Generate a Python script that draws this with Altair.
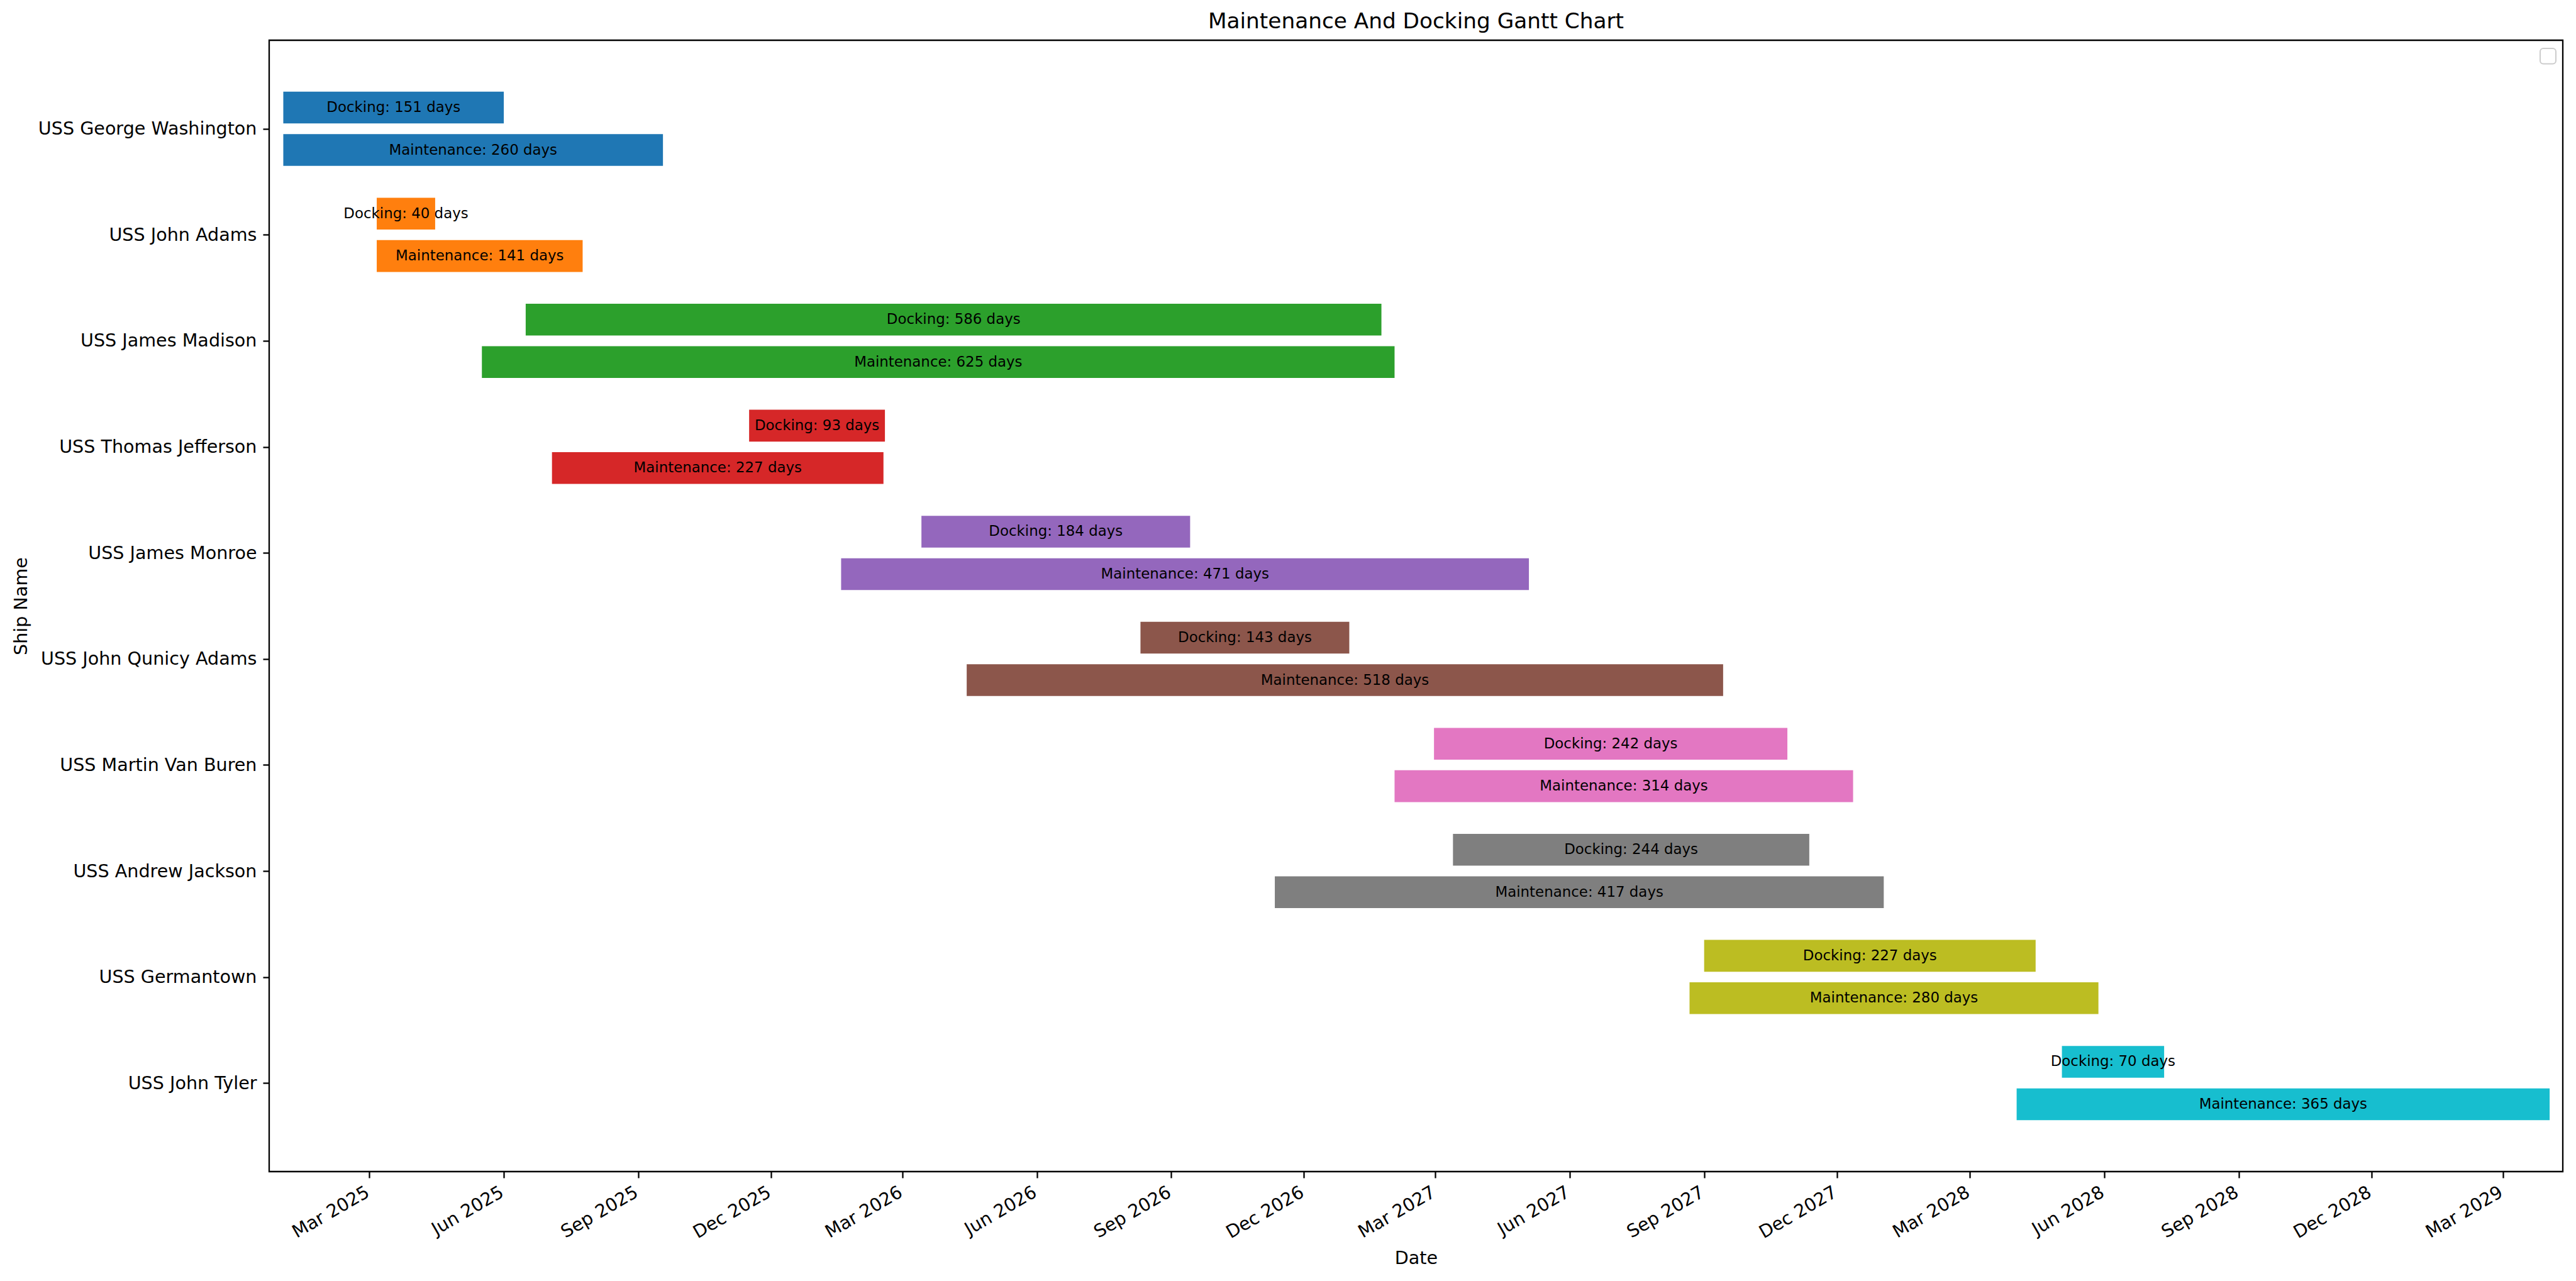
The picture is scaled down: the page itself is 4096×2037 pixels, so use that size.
import json
import altair as alt
import pandas as pd

# ---------------- data ----------------
ships = [
    "USS George Washington", "USS John Adams", "USS James Madison",
    "USS Thomas Jefferson", "USS James Monroe", "USS John Qunicy Adams",
    "USS Martin Van Buren", "USS Andrew Jackson", "USS Germantown", "USS John Tyler",
]
docking_start = [
    "2025-01-01", "2025-03-06", "2025-06-16", "2025-11-16", "2026-03-14",
    "2026-08-11", "2027-02-28", "2027-03-13", "2027-09-01", "2028-05-03",
]
docking_days = [151, 40, 586, 93, 184, 143, 242, 244, 227, 70]
maint_start = [
    "2025-01-01", "2025-03-06", "2025-05-17", "2025-07-04", "2026-01-18",
    "2026-04-14", "2027-02-01", "2026-11-11", "2027-08-22", "2028-04-02",
]
maint_days = [260, 141, 625, 227, 471, 518, 314, 417, 280, 365]
colors = ["#1f77b4", "#ff7f0e", "#2ca02c", "#d62728", "#9467bd",
          "#8c564b", "#e377c2", "#7f7f7f", "#bcbd22", "#17becf"]
tick_dates = ["2025-03-01", "2025-06-01", "2025-09-01", "2025-12-01",
              "2026-03-01", "2026-06-01", "2026-09-01", "2026-12-01",
              "2027-03-01", "2027-06-01", "2027-09-01", "2027-12-01",
              "2028-03-01", "2028-06-01", "2028-09-01", "2028-12-01",
              "2029-03-01"]
x_limits = ["2024-12-22T08:00:00", "2029-04-11T00:00:00"]
y_limits = [-0.835, 9.835]

# ---------------- table ----------------
FMT = "%Y-%m-%dT%H:%M:%S"
rows = []
for i, ship in enumerate(ships):
    for kind, starts, days, off in (("Docking", docking_start, docking_days, -0.2),
                                    ("Maintenance", maint_start, maint_days, 0.2)):
        s = pd.Timestamp(starts[i])
        d = days[i]
        e = s + pd.Timedelta(days=d)
        m = s + pd.Timedelta(days=d / 2)
        pos = i + off
        rows.append({
            "ship": ship, "kind": kind,
            "start": s.strftime(FMT), "end": e.strftime(FMT), "mid": m.strftime(FMT),
            "pos": pos, "top": pos - 0.15, "bottom": pos + 0.15,
            "label": f"{kind}: {d} days",
        })
df = pd.DataFrame(rows)


def dt(s):
    t = pd.Timestamp(s)
    return alt.DateTime(year=t.year, month=t.month, date=t.day, hours=t.hour)


FONT = "DejaVu Sans"
label_expr = "[" + ",".join(json.dumps(s) for s in ships) + "][datum.value]"

x_scale = alt.Scale(domain=[dt(x_limits[0]), dt(x_limits[1])])
y_scale = alt.Scale(domain=y_limits, reverse=True, nice=False, zero=False)

base = alt.Chart(df)

bars = base.mark_rect().encode(
    x=alt.X("start:T", scale=x_scale,
            axis=alt.Axis(values=[dt(t) for t in tick_dates], format="%b %Y",
                          labelAngle=-30, labelAlign="right", labelBaseline="top",
                          labelPadding=8, labelOffset=-10, labelOverlap=False,
                          title="Date", titleX=1823.5, titleY=146.5,
                          titleBaseline="alphabetic", titleAlign="center")),
    x2="end:T",
    y=alt.Y("top:Q", scale=y_scale,
            axis=alt.Axis(values=list(range(len(ships))), labelExpr=label_expr,
                          labelPadding=10, labelOverlap=False, labelLimit=1000,
                          title="Ship Name", titleX=-385.5, titleY=899.5,
                          titleAngle=-90, titleBaseline="alphabetic",
                          titleAlign="center")),
    y2="bottom:Q",
    color=alt.Color("ship:N", scale=alt.Scale(domain=ships, range=colors), legend=None),
)

texts = base.mark_text(fontSize=22.9, font=FONT, color="black",
                       align="center", baseline="middle").encode(
    x=alt.X("mid:T", scale=x_scale),
    y=alt.Y("pos:Q", scale=y_scale),
    text="label:N",
)

legend_box = alt.Chart(pd.DataFrame({"k": [0]})).mark_rect(
    fill="white", stroke="#cccccc", strokeWidth=2, cornerRadius=5
).encode(x=alt.value(3611), x2=alt.value(3636), y=alt.value(13), y2=alt.value(37.5))

chart = alt.layer(bars, texts, legend_box).properties(
    width=3647,
    height=1799,
    title=alt.TitleParams("Maintenance And Docking Gantt Chart", fontSize=34.3,
                          font=FONT, fontWeight="normal", color="black",
                          anchor="middle", baseline="alphabetic", offset=17, dy=32),
    autosize=alt.AutoSizeParams(type="none"),
    padding={"left": 428, "top": 64, "right": 21, "bottom": 174},
).configure_view(
    stroke="black", strokeWidth=2.3
).configure_axis(
    labelFont=FONT, labelFontSize=28.6, labelColor="black",
    titleFont=FONT, titleFontSize=28.6, titleFontWeight="normal", titleColor="black",
    tickColor="black", tickWidth=2.3, tickSize=10, domain=False, grid=False,
)

chart.save("out.html", embed_options={"renderer": "svg", "actions": False})
